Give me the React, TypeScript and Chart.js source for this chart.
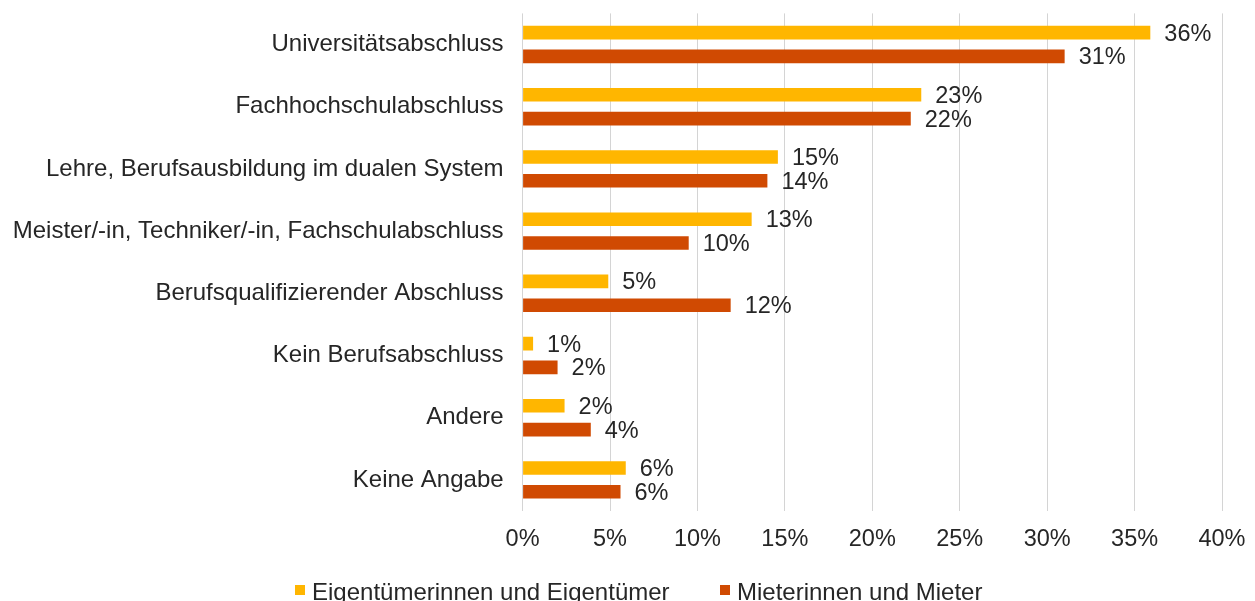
import React, { useEffect, useRef } from "react";
import { Chart, registerables } from "chart.js";

Chart.register(...registerables);

const categories = [
  "Universitätsabschluss",
  "Fachhochschulabschluss",
  "Lehre, Berufsausbildung im dualen System",
  "Meister/-in, Techniker/-in, Fachschulabschluss",
  "Berufsqualifizierender Abschluss",
  "Kein Berufsabschluss",
  "Andere",
  "Keine Angabe",
];

const seriesNames = ["Eigentümerinnen und Eigentümer", "Mieterinnen und Mieter"];
const ownerValues = [35.9, 22.8, 14.6, 13.1, 4.9, 0.6, 2.4, 5.9];
const tenantValues = [31.0, 22.2, 14.0, 9.5, 11.9, 2.0, 3.9, 5.6];
const seriesColors = ["#FFB600", "#D04A02"];

const xMin = 0;
const xMax = 40;
const xStep = 5;

const FONT = "'Liberation Sans', Arial, Helvetica, sans-serif";
const TEXT = "#262626";

const valueLabelPlugin = {
  id: "valueLabels",
  afterDatasetsDraw(chart: any) {
    const ctx = chart.ctx;
    ctx.save();
    ctx.font = `23.5px ${FONT}`;
    ctx.fillStyle = TEXT;
    ctx.textAlign = "left";
    ctx.textBaseline = "middle";
    chart.data.datasets.forEach((ds: any, di: number) => {
      const meta = chart.getDatasetMeta(di);
      meta.data.forEach((bar: any, i: number) => {
        const v = ds.data[i];
        ctx.fillText(Math.round(v) + "%", bar.x + 14, bar.y + 1.5);
      });
    });
    ctx.restore();
  },
};

export default function App() {
  const canvasRef = useRef<HTMLCanvasElement | null>(null);

  useEffect(() => {
    document.body.style.margin = "0";
    const canvas = canvasRef.current;
    if (!canvas) return;
    const chart = new Chart(canvas, {
      type: "bar",
      data: {
        labels: categories,
        datasets: [
          {
            label: seriesNames[0],
            data: ownerValues,
            backgroundColor: seriesColors[0],
            categoryPercentage: 0.765,
            barPercentage: 0.57,
          },
          {
            label: seriesNames[1],
            data: tenantValues,
            backgroundColor: seriesColors[1],
            categoryPercentage: 0.765,
            barPercentage: 0.57,
          },
        ],
      },
      options: {
        indexAxis: "y",
        responsive: false,
        animation: false,
        devicePixelRatio: 1,
        layout: { padding: { top: 13.4, right: 33, bottom: 0, left: 0 } },
        plugins: {
          legend: { display: false },
          tooltip: { enabled: false },
        },
        scales: {
          x: {
            min: xMin,
            max: xMax,
            grid: {
              color: "#d4d4d4",
              lineWidth: 1,
              drawTicks: true,
              tickLength: 17,
              tickColor: "rgba(0,0,0,0)",
            },
            border: { display: false },
            ticks: {
              stepSize: xStep,
              padding: 0,
              color: TEXT,
              font: { family: FONT, size: 23.5, lineHeight: 1 },
              callback: (v: any) => v + "%",
            },
            afterFit: (scale: any) => {
              scale.height = 90;
            },
          },
          y: {
            grid: { display: false, drawTicks: true, tickLength: 19 },
            border: { display: false },
            ticks: {
              padding: 0,
              color: TEXT,
              font: { family: FONT, size: 24, lineHeight: 1 },
            },
            afterFit: (scale: any) => {
              scale.width = 522.6;
            },
          },
        },
      },
      plugins: [valueLabelPlugin],
    });
    return () => chart.destroy();
  }, []);

  const legendItem = (i: number, left: number) => (
    <div
      key={i}
      style={{
        position: "absolute",
        left,
        top: 580,
        height: 24,
        display: "flex",
        alignItems: "flex-start",
        whiteSpace: "nowrap",
      }}
    >
      <span
        style={{
          display: "inline-block",
          width: 10,
          height: 10,
          marginTop: 5,
          background: seriesColors[i],
        }}
      />
      <span
        style={{
          marginLeft: 7,
          fontFamily: FONT,
          fontSize: 24,
          lineHeight: "24px",
          color: TEXT,
        }}
      >
        {seriesNames[i]}
      </span>
    </div>
  );

  return (
    <div
      style={{
        position: "relative",
        width: 1255,
        height: 601,
        overflow: "hidden",
        background: "#fff",
      }}
    >
      <canvas ref={canvasRef} width={1255} height={601} style={{ display: "block" }} />
      {legendItem(0, 295)}
      {legendItem(1, 720)}
    </div>
  );
}
